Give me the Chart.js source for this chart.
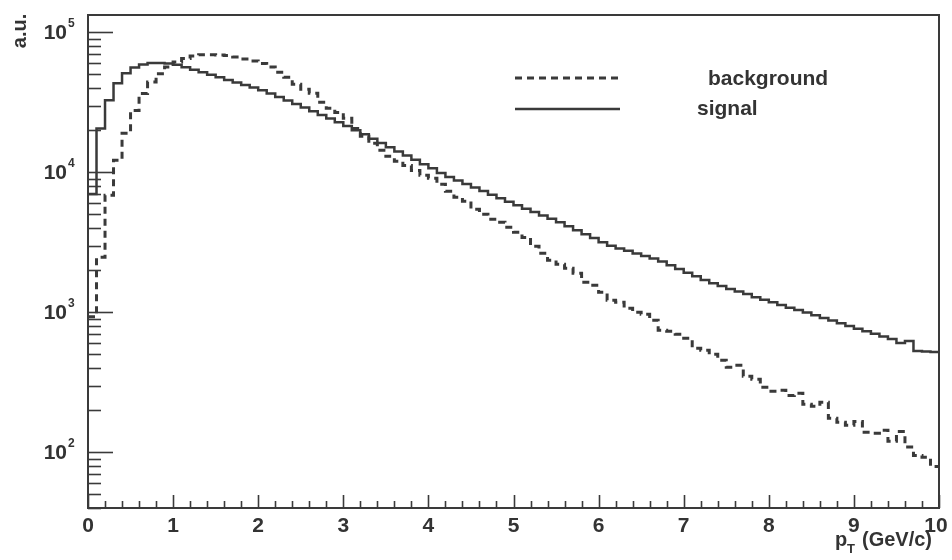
<!DOCTYPE html>
<html>
<head>
<meta charset="utf-8">
<script src="https://cdn.jsdelivr.net/npm/chart.js@4.4.1/dist/chart.umd.min.js"></script>
<style>
  html, body { margin: 0; padding: 0; background: #fff; }
  #wrap { width: 952px; height: 560px; }
</style>
</head>
<body>
<div id="wrap"><canvas id="grafico" width="952" height="560"></canvas></div>
<script>
// Histogram bins: 100 bins of 0.1 GeV/c from 0 to 10
const binWidth = 0.1;
const signal = [
  7000, 20600, 32700, 43300, 51000, 56000, 59000, 60300, 60500, 60000,
  58600, 56200, 54100, 51800, 49700, 47700, 45700, 43800, 42000, 40300,
  38600, 36500, 34500, 32600, 30800, 29000, 27300, 25700, 24200, 22800,
  21400, 20000, 18700, 17400, 16200, 15100, 14100, 13200, 12300, 11400,
  10700, 9900, 9270, 8740, 8250, 7780, 7340, 6920, 6530, 6160,
  5820, 5500, 5200, 4920, 4650, 4390, 4120, 3860, 3610, 3390,
  3170, 2990, 2860, 2750, 2630, 2520, 2420, 2310, 2170, 2040,
  1920, 1810, 1700, 1610, 1540, 1470, 1410, 1350, 1280, 1230,
  1180, 1130, 1080, 1040, 995, 953, 912, 873, 834, 797,
  764, 731, 702, 673, 645, 604, 624, 530, 525, 520
];
const background = [
  930, 2470, 6860, 12200, 19000, 27700, 36500, 44100, 50700, 56500,
  61400, 64900, 67800, 69300, 69300, 68800, 68200, 66700, 64400, 62400,
  59800, 56500, 51800, 47700, 42500, 39200, 36700, 31600, 28700, 26800,
  24300, 20600, 18100, 16100, 14400, 13000, 12000, 11200, 10300, 9520,
  9060, 8210, 7310, 6630, 6210, 5440, 5010, 4620, 4390, 4050,
  3730, 3430, 2960, 2640, 2350, 2200, 2060, 1900, 1640, 1560,
  1390, 1220, 1180, 1070, 1000, 967, 877, 743, 731, 697,
  652, 553, 535, 501, 454, 405, 418, 349, 332, 291,
  273, 277, 255, 264, 220, 213, 228, 175, 164, 156,
  166, 139, 137, 144, 120, 141, 109, 95, 92, 79
];
const xTickLabels = ['0', '1', '2', '3', '4', '5', '6', '7', '8', '9', '10'];
const yTickValues = [100, 1000, 10000, 100000];
const yTickExponents = ['2', '3', '4', '5'];

const ink = '#3a3a3a';
const fontFam = '"Liberation Sans", Arial, Helvetica, sans-serif';

// histogram -> step points (left bin edges + closing edge)
function pasos(valores) {
  const pts = valores.map((v, i) => ({ x: i * binWidth, y: v }));
  pts.push({ x: valores.length * binWidth, y: valores[valores.length - 1] });
  return pts;
}

// ROOT-like frame, inner ticks, labels and legend
const estiloRoot = {
  id: 'estiloRoot',
  afterDraw(chart) {
    const ctx = chart.ctx;
    const xs = chart.scales.x, ys = chart.scales.y;
    const { left, right, top, bottom } = chart.chartArea;
    ctx.save();
    ctx.strokeStyle = ink;
    ctx.lineWidth = 2;
    ctx.strokeRect(left, top, right - left, bottom - top);

    // y ticks (log)
    ctx.lineWidth = 1.6;
    for (let d = 10; d <= 1e5; d *= 10) {
      for (let m = 1; m <= 9; m++) {
        const v = m * d;
        if (v < ys.min || v > ys.max) continue;
        const py = Math.round(ys.getPixelForValue(v)) + 0.5;
        const len = m === 1 ? 25 : 13;
        ctx.beginPath();
        ctx.moveTo(left, py);
        ctx.lineTo(left + len, py);
        ctx.stroke();
      }
    }
    // x ticks
    for (let k = 0; k <= 50; k++) {
      const v = k * 0.2;
      const px = Math.round(xs.getPixelForValue(v)) + 0.5;
      const len = k % 5 === 0 ? 13 : 7;
      ctx.beginPath();
      ctx.moveTo(px, bottom);
      ctx.lineTo(px, bottom - len);
      ctx.stroke();
    }

    ctx.fillStyle = '#333';
    // y labels 10^n
    yTickValues.forEach((v, i) => {
      const py = ys.getPixelForValue(v);
      ctx.font = 'bold 21px ' + fontFam;
      ctx.textAlign = 'right';
      ctx.textBaseline = 'middle';
      ctx.fillText('10', left - 21, py + 1);
      ctx.font = 'bold 12px ' + fontFam;
      ctx.textAlign = 'left';
      ctx.fillText(yTickExponents[i], left - 20, py - 9);
    });
    // x labels
    ctx.font = 'bold 21px ' + fontFam;
    ctx.textAlign = 'center';
    ctx.textBaseline = 'top';
    xTickLabels.forEach(t => {
      const px = xs.getPixelForValue(Number(t));
      ctx.fillText(t, t === '10' ? px - 3 : px, bottom + 8);
    });

    // axis titles
    ctx.save();
    ctx.translate(26, 31);
    ctx.rotate(-Math.PI / 2);
    ctx.font = 'bold 20px ' + fontFam;
    ctx.textAlign = 'center';
    ctx.textBaseline = 'alphabetic';
    ctx.fillText('a.u.', 0, 0);
    ctx.restore();

    ctx.textAlign = 'left';
    ctx.textBaseline = 'alphabetic';
    ctx.font = 'bold 20px ' + fontFam;
    ctx.fillText('p', 835, 546);
    ctx.font = 'bold 13px ' + fontFam;
    ctx.fillText('T', 847, 553);
    ctx.font = 'bold 20px ' + fontFam;
    ctx.fillText('(GeV/c)', 862, 546);

    // legend
    const ds = chart.data.datasets;
    const filas = [
      { d: ds[0], y: 78, tx: 708, ty: 85 },
      { d: ds[1], y: 109, tx: 697, ty: 115 }
    ];
    filas.forEach(f => {
      ctx.strokeStyle = f.d.borderColor;
      ctx.lineWidth = f.d.borderWidth;
      ctx.setLineDash(f.d.borderDash || []);
      ctx.beginPath();
      ctx.moveTo(515, f.y);
      ctx.lineTo(620, f.y);
      ctx.stroke();
      ctx.setLineDash([]);
      ctx.font = 'bold 21px ' + fontFam;
      ctx.fillStyle = '#333';
      ctx.fillText(f.d.label, f.tx, f.ty);
    });
    ctx.restore();
  }
};

new Chart(document.getElementById('grafico'), {
  type: 'line',
  data: {
    datasets: [
      {
        label: 'background',
        data: pasos(background),
        stepped: 'before',
        borderColor: ink,
        borderWidth: 3,
        borderDash: [7, 5],
        pointRadius: 0,
        fill: false
      },
      {
        label: 'signal',
        data: pasos(signal),
        stepped: 'before',
        borderColor: ink,
        borderWidth: 2.5,
        pointRadius: 0,
        fill: false
      }
    ]
  },
  options: {
    responsive: false,
    animation: false,
    devicePixelRatio: 1,
    layout: { padding: { left: 0, right: 13, top: 15, bottom: 0 } },
    plugins: { legend: { display: false }, tooltip: { enabled: false } },
    scales: {
      x: {
        type: 'linear', min: 0, max: 10,
        grid: { display: false }, border: { display: false },
        ticks: { display: false },
        afterFit: s => { s.height = 52; }
      },
      y: {
        type: 'logarithmic', min: 40, max: 133000,
        grid: { display: false }, border: { display: false },
        ticks: { display: false },
        afterFit: s => { s.width = 88; }
      }
    }
  },
  plugins: [estiloRoot]
});
</script>
</body>
</html>
